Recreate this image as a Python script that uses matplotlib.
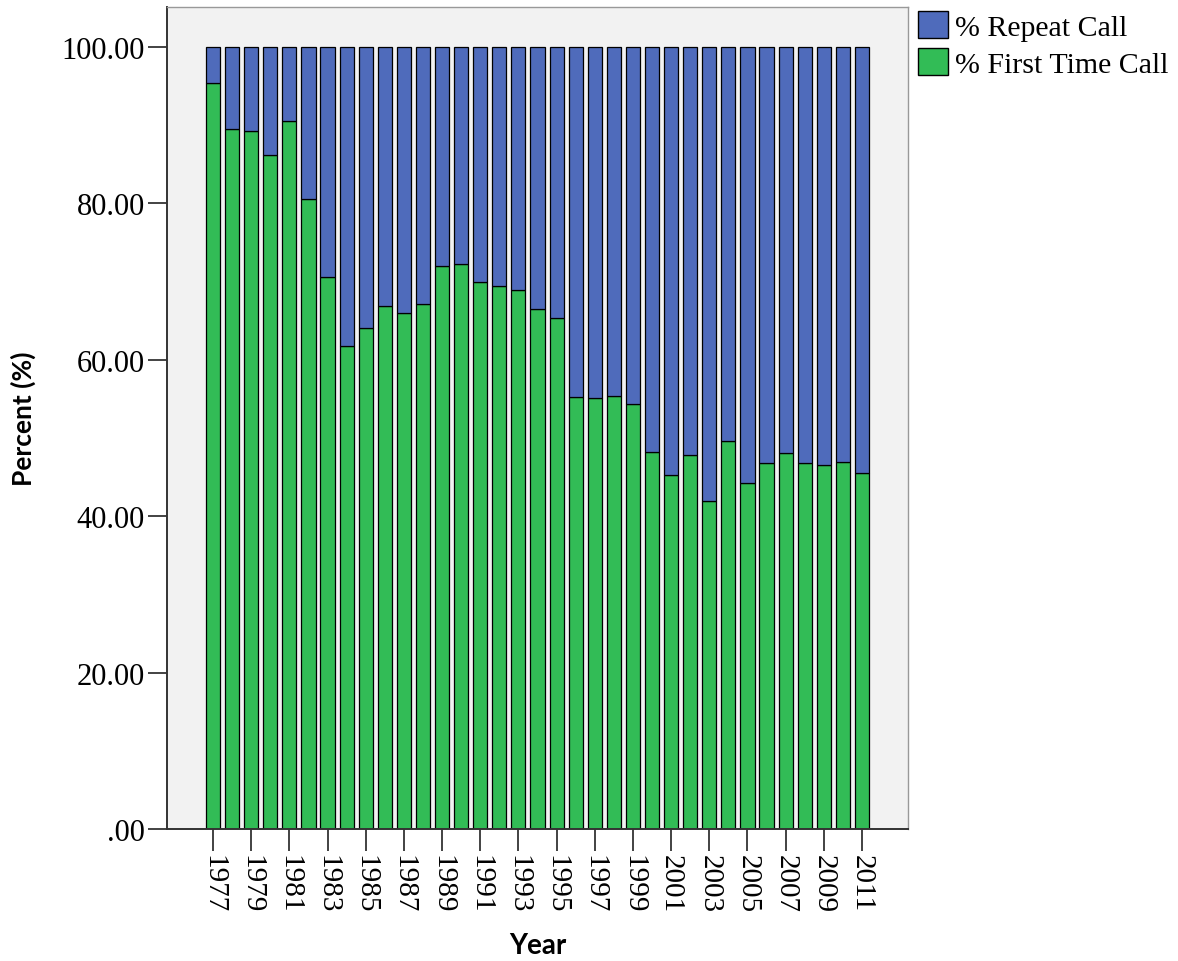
import numpy as np
import matplotlib
matplotlib.use("Agg")
import matplotlib.pyplot as plt
from matplotlib.ticker import FuncFormatter, FixedLocator
from matplotlib.patches import Patch

years = list(range(1977, 2012))
first_time = [95.4, 89.5, 89.3, 86.2, 90.5, 80.6, 70.6, 61.8, 64.1, 66.9,
              66.0, 67.1, 72.0, 72.3, 70.0, 69.4, 68.9, 66.5, 65.3, 55.2,
              55.1, 55.4, 54.4, 48.2, 45.3, 47.8, 42.0, 49.6, 44.3, 46.8,
              48.1, 46.8, 46.6, 46.9, 45.5]
repeat = [100 - v for v in first_time]
tick_years = years[::2]

blue = "#4f6bbb"
green = "#32bc56"
serif = "Liberation Serif"

fig = plt.figure(figsize=(11.78, 9.62), dpi=100)
ax = fig.add_axes([167 / 1178, 1 - 830 / 962, (908 - 167) / 1178, (830 - 8) / 962])
ax.set_facecolor("#f2f2f2")

x = np.arange(len(years))
ax.bar(x, first_time, width=0.74, color=green, edgecolor="black", linewidth=0.9)
ax.bar(x, repeat, bottom=first_time, width=0.74, color=blue, edgecolor="black", linewidth=0.9)

ax.set_xlim(-2.41, 36.41)
ax.set_ylim(0, 105.1)

# odd years only
pos = [years.index(y) for y in tick_years]
ax.xaxis.set_major_locator(FixedLocator(pos))
ax.set_xticklabels([str(y) for y in tick_years], rotation=270, fontfamily=serif, fontsize=21)
ax.set_yticks([0, 20, 40, 60, 80, 100])
ax.yaxis.set_major_formatter(FuncFormatter(lambda v, p: ".00" if v == 0 else f"{v:.2f}"))
for lab in ax.get_yticklabels():
    lab.set_fontfamily(serif)
    lab.set_fontsize(22)

ax.tick_params(axis="x", length=16, width=1.2, color="#222222", pad=2)
ax.tick_params(axis="y", length=14, width=1.2, color="#222222", pad=2)

for s in ["top", "right"]:
    ax.spines[s].set_color("#999999")
    ax.spines[s].set_linewidth(1.0)
for s in ["left", "bottom"]:
    ax.spines[s].set_color("#333333")
    ax.spines[s].set_linewidth(1.4)

ax.set_xlabel("Year", fontfamily="Lato", fontweight="bold", fontsize=20, labelpad=14)
ax.set_ylabel("Percent (%)", fontfamily="Lato", fontweight="bold", fontsize=19, labelpad=18)

handles = [Patch(facecolor=blue, edgecolor="black", label="% Repeat Call"),
           Patch(facecolor=green, edgecolor="black", label="% First Time Call")]
fig.legend(handles=handles, loc="upper left", bbox_to_anchor=(912 / 1178, 1 - 6 / 962),
           frameon=False, prop={"family": serif, "size": 21.5},
           handlelength=1.0, handleheight=1.0, handletextpad=0.25,
           labelspacing=0.25, borderpad=0.2, borderaxespad=0)

fig.savefig("out.png", dpi=100)
